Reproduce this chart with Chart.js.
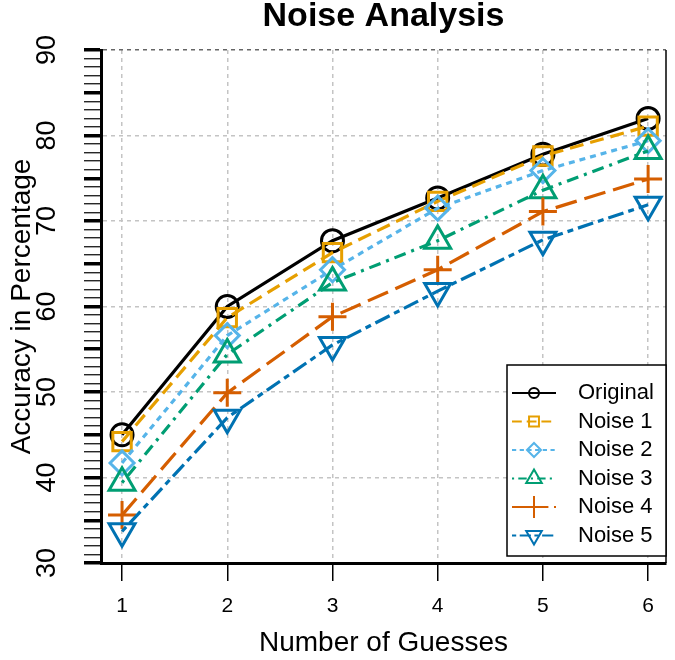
<!DOCTYPE html>
<html>
<head>
<meta charset="utf-8">
<script src="https://cdn.jsdelivr.net/npm/chart.js@4.4.1/dist/chart.umd.min.js"></script>
<style>
  html, body { margin: 0; padding: 0; background: #fff; }
</style>
</head>
<body>
<canvas id="noiseChart" width="675" height="660"></canvas>
<script>
// values
const guesses = [1, 2, 3, 4, 5, 6];
const original = [45.0, 60.0, 67.7, 72.7, 77.8, 82.0];
const noise1 = [44.2, 58.7, 66.3, 72.3, 77.6, 81.1];
const noise2 = [41.7, 56.6, 64.3, 71.5, 75.9, 79.4];
const noise3 = [39.4, 54.4, 62.8, 67.7, 73.6, 78.2];
const noise4 = [35.6, 49.9, 58.8, 64.3, 71.1, 74.9];
const noise5 = [33.7, 47.0, 55.5, 61.8, 67.8, 71.9];
const seriesNames = ["Original", "Noise 1", "Noise 2", "Noise 3", "Noise 4", "Noise 5"];
const yTickLabels = [30, 40, 50, 60, 70, 80, 90];

const seriesValues = [original, noise1, noise2, noise3, noise4, noise5];

// styling
const colors = ["#000000", "#E69F00", "#56B4E9", "#009E73", "#D55E00", "#0072B2"];
const dashes = [[], [14, 7], [6, 5], [3, 6, 12, 6], [22, 8], [6, 5, 16, 5]];
const markers = ["circle", "rect", "rectRot", "triangle", "cross", "triangle"];
const rotations = [0, 0, 0, 0, 0, 180];
const radii = [11, 13, 12, 15, 14, 15];
const legendRadii = [5, 7, 7, 9, 11, 9];

Chart.defaults.font.family = "'Liberation Sans', Arial, sans-serif";
Chart.defaults.color = "#000";

const datasets = seriesNames.map((name, i) => ({
    label: name,
    data: guesses.map((g, j) => ({ x: g, y: seriesValues[i][j] })),
    borderColor: colors[i],
    backgroundColor: "rgba(0,0,0,0)",
    borderWidth: 3.2,
    borderDash: dashes[i],
    pointStyle: markers[i],
    pointRotation: rotations[i],
    pointRadius: radii[i],
    pointBorderWidth: 3,
    pointBorderColor: colors[i],
    pointBackgroundColor: "rgba(0,0,0,0)",
    tension: 0,
    fill: false,
    clip: false,
    order: 6 - i
}));

const extrasPlugin = {
    id: "noiseExtras",
    afterDraw(chart) {
        const ctx = chart.ctx;
        const area = chart.chartArea;
        const yScale = chart.scales.y;

        // right frame line
        ctx.save();
        ctx.strokeStyle = "#000";
        ctx.lineWidth = 1.5;
        ctx.beginPath();
        ctx.moveTo(area.right, area.top);
        ctx.lineTo(area.right, area.bottom);
        ctx.stroke();
        ctx.restore();

        // rotated y tick labels (R style)
        ctx.save();
        ctx.fillStyle = "#000";
        ctx.font = "27px 'Liberation Sans', Arial, sans-serif";
        ctx.textAlign = "center";
        ctx.textBaseline = "middle";
        yTickLabels.forEach(v => {
            const py = yScale.getPixelForValue(v);
            ctx.save();
            ctx.translate(48, py);
            ctx.rotate(-Math.PI / 2);
            ctx.fillText(String(v), 0, 0);
            ctx.restore();
        });
        ctx.restore();

        // legend box in the lower right corner
        const boxLeft = 507, boxTop = 365, boxBottom = 556;
        ctx.save();
        ctx.fillStyle = "#fff";
        ctx.fillRect(boxLeft, boxTop, area.right - boxLeft, boxBottom - boxTop);
        ctx.strokeStyle = "#000";
        ctx.lineWidth = 1.5;
        ctx.strokeRect(boxLeft, boxTop, area.right - boxLeft, boxBottom - boxTop);

        const drawPt = Chart.helpers && Chart.helpers.drawPoint;
        chart.data.datasets.forEach((ds, i) => {
            const rowY = 393 + i * 28.5;
            ctx.save();
            ctx.strokeStyle = ds.borderColor;
            ctx.lineWidth = 2;
            ctx.setLineDash(ds.borderDash.map(d => d * 0.7));
            ctx.beginPath();
            ctx.moveTo(512, rowY);
            ctx.lineTo(556, rowY);
            ctx.stroke();
            ctx.setLineDash([]);
            if (drawPt) {
                ctx.fillStyle = "rgba(0,0,0,0)";
                ctx.lineWidth = 2;
                drawPt(ctx, {
                    pointStyle: ds.pointStyle,
                    rotation: ds.pointRotation,
                    radius: legendRadii[i],
                    borderWidth: 2
                }, 534, rowY);
            }
            ctx.restore();

            ctx.fillStyle = "#000";
            ctx.font = "22px 'Liberation Sans', Arial, sans-serif";
            ctx.textAlign = "left";
            ctx.textBaseline = "middle";
            ctx.fillText(ds.label, 578, rowY);
        });
        ctx.restore();
    }
};

new Chart(document.getElementById("noiseChart").getContext("2d"), {
    type: "line",
    data: { datasets: datasets },
    options: {
        responsive: false,
        animation: false,
        layout: { autoPadding: false, padding: { left: 0, right: 9, top: 0, bottom: 0 } },
        plugins: {
            legend: { display: false },
            tooltip: { enabled: false },
            title: {
                display: true,
                text: "Noise Analysis",
                color: "#000",
                fullSize: false,
                font: { size: 34, weight: "bold", lineHeight: 1 },
                padding: { top: 0, bottom: 16 }
            }
        },
        scales: {
            x: {
                type: "linear",
                min: 0.8,
                max: 6.17,
                afterBuildTicks: scale => {
                    scale.ticks = guesses.map(v => ({ value: v }));
                },
                afterFit: scale => {
                    scale.height = 97;
                    scale.paddingLeft = 0;
                    scale.paddingRight = 0;
                },
                grid: {
                    color: "#c4c4c4",
                    lineWidth: 1.5,
                    tickLength: 18,
                    tickColor: "#000",
                    tickWidth: 1.5,
                    tickBorderDash: []
                },
                border: { color: "#000", width: 3, dash: [4, 4] },
                ticks: {
                    color: "#000",
                    font: { size: 21 },
                    padding: 13,
                    autoSkip: false,
                    maxRotation: 0
                },
                title: {
                    display: true,
                    text: "Number of Guesses",
                    color: "#000",
                    font: { size: 28 },
                    padding: { top: 1, bottom: 0 }
                }
            },
            y: {
                type: "linear",
                min: 30,
                max: 90,
                afterBuildTicks: scale => {
                    const t = [];
                    for (let v = 30; v <= 90; v++) t.push({ value: v });
                    scale.ticks = t;
                },
                afterFit: scale => {
                    scale.width = 101;
                    scale.paddingTop = 0;
                    scale.paddingBottom = 0;
                },
                ticks: { display: false, autoSkip: false },
                grid: {
                    color: c => {
                        if (!c.tick || c.tick.value % 10 !== 0) return "rgba(0,0,0,0)";
                        return c.tick.value === 90 ? "#666" : "#c4c4c4";
                    },
                    lineWidth: 1.5,
                    tickLength: 17,
                    tickColor: "#000",
                    tickWidth: c => (c.tick && c.tick.value % 5 === 0 ? 3.5 : 1.2),
                    tickBorderDash: []
                },
                border: { color: "#000", width: 3, dash: [4, 4] },
                title: {
                    display: true,
                    text: "Accuracy in Percentage",
                    color: "#000",
                    font: { size: 28 },
                    padding: { top: 5, bottom: 0 }
                }
            }
        }
    },
    plugins: [extrasPlugin]
});
</script>
</body>
</html>
